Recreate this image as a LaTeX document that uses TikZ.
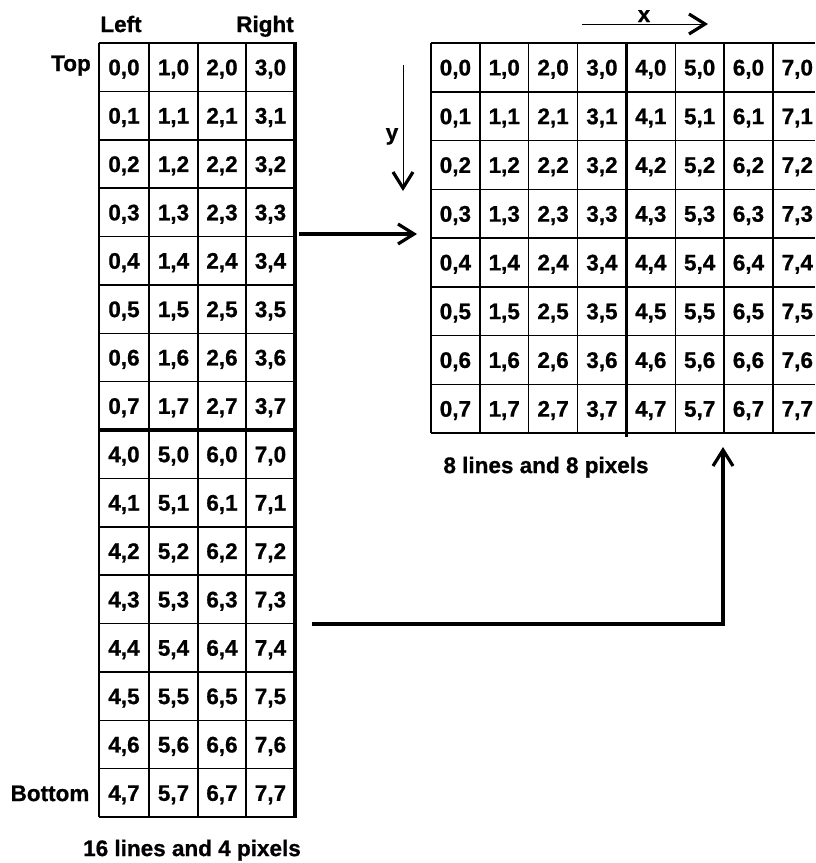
\documentclass[tikz,border=0pt]{standalone}
\usepackage{fontspec}
\setmainfont{Liberation Sans}[BoldFeatures={FakeBold=0.8}]
\usetikzlibrary{arrows.meta}
\begin{document}
\begin{tikzpicture}[x=1pt,y=-1pt,
  gl/.style={line width=1.5pt},
  gthick/.style={line width=3.2pt},
  cell/.style={font=\fontsize{22.5}{26}\selectfont\bfseries, inner sep=0pt, text height=16pt, text depth=0pt},
  lab/.style={font=\fontsize{22.5}{26}\selectfont\bfseries, inner sep=0pt, text height=16.1pt, text depth=0pt},
  axl/.style={font=\fontsize{22.5}{26}\selectfont\bfseries, inner sep=0pt, anchor=base},
  vee/.style={-{Straight Barb[length=16pt,width=20pt,line width=3.2pt]}},
  conn/.style={line width=3.2pt, vee},
  axis/.style={line width=0.9pt, vee}]
\useasboundingbox (0,0) rectangle (815,863);
\fill[white] (0,0) rectangle (815,863);

% ---------- left grid (16 lines x 4 pixels)
\foreach \xx in {99,149,198,246} \draw[gl] (\xx,43) -- (\xx,817);
\draw[gthick] (295,42) -- (295,818);
\foreach \r in {0,...,16} {
  \pgfmathsetmacro\yy{43+\r*48.375}
  \ifnum\r=8 \draw[gthick] (99,\yy) -- (295,\yy); \else \draw[gl] (99,\yy) -- (295,\yy); \fi
}
\foreach \r in {0,...,15} {
  \foreach \c/\xm in {0/124,1/173.5,2/222,3/270.5} {
    \pgfmathtruncatemacro\cc{\r<8 ? \c : \c+4}
    \pgfmathtruncatemacro\rr{\r<8 ? \r : \r-8}
    \node[cell] (L-\c-\r) at (\xm, 43+\r*48.375+24.19) {\cc,\rr};
  }
}

% ---------- right grid (8 lines x 8 pixels)
\foreach \c in {0,...,7} {
  \pgfmathsetmacro\xx{431+\c*48.85}
  \ifnum\c=4 \draw[gthick] (\xx,43) -- (\xx,437); \else \draw[gl] (\xx,43) -- (\xx,433); \fi
}
\foreach \r in {0,...,8} {
  \pgfmathsetmacro\yy{43+\r*48.75}
  \draw[gl] (431,\yy) -- (815,\yy);
}
\foreach \r in {0,...,7} {
  \foreach \c in {0,...,7} {
    \node[cell] (R-\c-\r) at (431+\c*48.85+24.4, 43+\r*48.75+24.4) {\c,\r};
  }
}

% ---------- labels
\node[lab] (lleft) at (121,24) {Left};
\node[lab] (lright) at (265,24) {Right};
\node[lab] (ltop) at (71,63) {Top};
\node[lab] (lbottom) at (50,793) {Bottom};
\node[lab] (cap1) at (192,848) {16 lines and 4 pixels};
\node[lab] (cap2) at (546,465) {8 lines and 8 pixels};
\node[axl] (xlab) at (644,22) {x};
\node[axl] (ylab) at (392,140) {y};

% ---------- axes
\coordinate (xs) at (582,24);
\coordinate (xe) at (708,24);
\draw[axis] (xs) -- (xe);
\coordinate (ys) at (403,65);
\coordinate (ye) at (403,191);
\draw[axis] (ys) -- (ye);

% ---------- connectors
\coordinate (topS) at (299,234);
\coordinate (topE) at (417,234);
\draw[conn] (topS) -- (topE);
\coordinate (botS) at (312,624);
\coordinate (botE) at (723,447);
\draw[conn] (botS) -| (botE);
\end{tikzpicture}
\end{document}
